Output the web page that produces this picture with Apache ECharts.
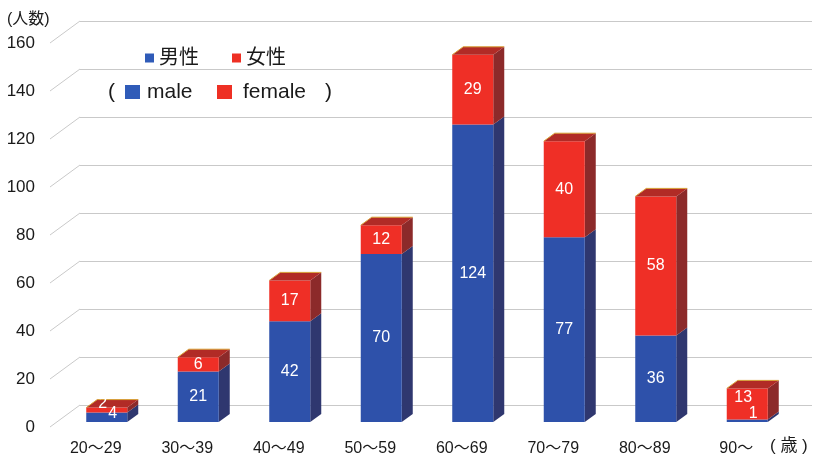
<!DOCTYPE html>
<html>
<head>
<meta charset="utf-8">
<script src="https://cdn.jsdelivr.net/npm/echarts@6/dist/echarts.min.js"></script>
<style>html,body{margin:0;padding:0;background:#fff}</style>
</head>
<body>
<div id="main" style="width:814px;height:460px"></div>
<script>
const ageGroups = ['20～29', '30～39', '40～49', '50～59', '60～69', '70～79', '80～89', '90～']
const male = [4, 21, 42, 70, 124, 77, 36, 1]
const female = [2, 6, 17, 12, 29, 40, 58, 13]
const yTicks = [0, 20, 40, 60, 80, 100, 120, 140, 160]

const FONT = '"Liberation Sans", "Noto Sans CJK JP", sans-serif'
const TEXT = '#1a1a1a'
const DX = 11, DY = 8, BAR_W = 41
const SMALL = 16
const blue = { front: '#2e51aa', side: '#2f376f', top: '#3a4f95' }
const red = { front: '#ef2f26', side: '#8c2a2a', top: '#b12b26' }

function barItem(colors, isUpper) {
  return function (params, api) {
    const i = api.value(0)
    const lo = api.coord([i, api.value(1)])
    const hi = api.coord([i, api.value(2)])
    const base = api.coord([i, 0])
    const x = lo[0] - BAR_W / 2
    const yb = lo[1]
    const yt = hi[1]
    const children = [
      {
        type: 'polygon',
        shape: { points: [[x + BAR_W, yt], [x + BAR_W, yb], [x + BAR_W + DX, yb - DY], [x + BAR_W + DX, yt - DY]] },
        style: { fill: colors.side }
      },
      {
        type: 'rect',
        shape: { x: x, y: yt, width: BAR_W, height: yb - yt },
        style: { fill: colors.front }
      }
    ]
    if (isUpper) {
      children.push({
        type: 'polygon',
        shape: { points: [[x, yt], [x + BAR_W, yt], [x + BAR_W + DX, yt - DY], [x + DX, yt - DY]] },
        style: { fill: colors.top }
      })
      children.push({
        type: 'polyline',
        shape: { points: [[x, yt], [x + DX, yt - DY], [x + BAR_W + DX, yt - DY]] },
        style: { stroke: '#d8a238', lineWidth: 1, fill: null }
      })
    }
    // keep labels of thin stacked pieces apart, as the original does
    let lx = x + BAR_W / 2
    let ly = (yt + yb) / 2
    if (!isUpper && yb - yt < SMALL) {
      lx += 6
      ly = yb - 8
    }
    if (isUpper && base[1] - yb < SMALL) {
      lx -= 4
      ly -= 6
    }
    children.push({
      type: 'text',
      z2: 100,
      style: {
        text: String(api.value(3)),
        x: lx,
        y: ly,
        align: 'center',
        verticalAlign: 'middle',
        fill: '#fff',
        fontSize: 16,
        fontFamily: FONT
      }
    })
    return { type: 'group', children: children }
  }
}

const maleData = male.map((v, i) => [i, 0, v, v])
const femaleData = female.map((v, i) => [i, male[i], male[i] + v, v])

const option = {
  animation: false,
  grid: [
    { left: 50, top: 43, width: 732, height: 384 },
    { left: 80, top: 21, right: 2, height: 384 },
    { left: 61, top: 38, width: 732, height: 384 }
  ],
  legend: {
    data: ['男性', '女性'],
    left: 140,
    top: 43,
    icon: 'rect',
    itemWidth: 9,
    itemHeight: 9,
    itemGap: 33,
    textStyle: { fontSize: 20, color: TEXT, fontFamily: FONT }
  },
  xAxis: [
    {
      gridIndex: 0,
      type: 'category',
      data: ageGroups,
      axisLine: { show: false },
      axisTick: { show: false },
      axisLabel: { fontSize: 16, color: TEXT, margin: 14, fontFamily: FONT }
    },
    { gridIndex: 1, type: 'category', data: ageGroups, show: false },
    { gridIndex: 2, type: 'category', data: ageGroups, show: false }
  ],
  yAxis: [
    {
      gridIndex: 0,
      type: 'value',
      min: 0,
      max: 160,
      interval: 20,
      splitLine: { show: false },
      axisLine: { show: false },
      axisTick: { show: false },
      axisLabel: { fontSize: 17, color: TEXT, margin: 15, padding: [5, 0, 0, 0], fontFamily: FONT }
    },
    {
      gridIndex: 1,
      type: 'value',
      min: 0,
      max: 160,
      interval: 20,
      axisLine: { show: false },
      axisTick: { show: false },
      axisLabel: { show: false },
      splitLine: { lineStyle: { color: '#c9c9c9', width: 1 } }
    },
    { gridIndex: 2, type: 'value', min: 0, max: 160, interval: 20, show: false }
  ],
  series: [
    {
      type: 'custom',
      xAxisIndex: 0,
      yAxisIndex: 0,
      silent: true,
      data: yTicks.map((v) => [0, v]),
      encode: { x: 0, y: 1 },
      renderItem: function (params, api) {
        const y = api.coord([0, api.value(1)])[1]
        const x0 = params.coordSys.x
        return {
          type: 'line',
          shape: { x1: x0, y1: y, x2: x0 + 30, y2: y - 22 },
          style: { stroke: '#c9c9c9', lineWidth: 1 }
        }
      }
    },
    {
      name: '男性',
      type: 'custom',
      xAxisIndex: 2,
      yAxisIndex: 2,
      itemStyle: { color: '#2f5bb8' },
      data: maleData,
      encode: { x: 0, y: [1, 2] },
      renderItem: barItem(blue, false)
    },
    {
      name: '女性',
      type: 'custom',
      xAxisIndex: 2,
      yAxisIndex: 2,
      itemStyle: { color: '#ee3024' },
      data: femaleData,
      encode: { x: 0, y: [1, 2] },
      renderItem: barItem(red, true)
    }
  ],
  graphic: [
    { type: 'text', left: 7, top: 12, style: { text: '(人数)', fontSize: 16, fill: TEXT, fontFamily: FONT } },
    { type: 'text', left: 770, top: 438, style: { text: '( 歳 )', fontSize: 17, fill: TEXT, fontFamily: FONT } },
    { type: 'text', left: 108, top: 82, style: { text: '(', fontSize: 21, fill: TEXT, fontFamily: FONT } },
    { type: 'rect', left: 125, top: 85, shape: { width: 15, height: 14 }, style: { fill: '#2f5bb8' } },
    { type: 'text', left: 147, top: 82, style: { text: 'male', fontSize: 21, fill: TEXT, fontFamily: FONT } },
    { type: 'rect', left: 217, top: 85, shape: { width: 15, height: 14 }, style: { fill: '#ee3024' } },
    { type: 'text', left: 243, top: 82, style: { text: 'female', fontSize: 21, fill: TEXT, fontFamily: FONT } },
    { type: 'text', left: 325, top: 82, style: { text: ')', fontSize: 21, fill: TEXT, fontFamily: FONT } }
  ]
}

const chart = echarts.init(document.getElementById('main'))
chart.setOption(option)
</script>
</body>
</html>
